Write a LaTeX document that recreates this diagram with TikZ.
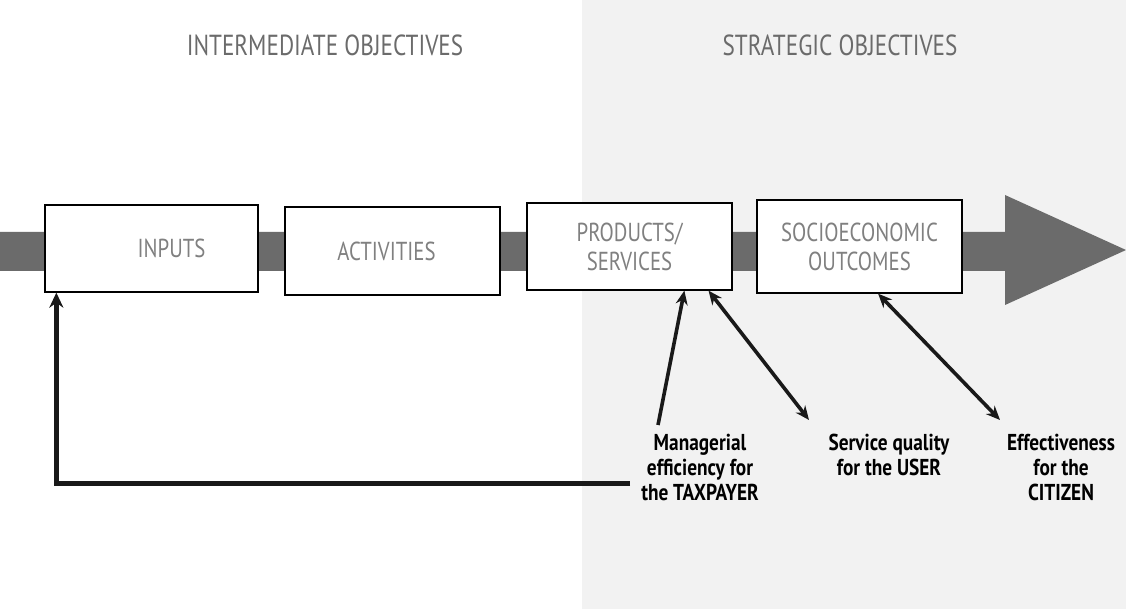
\documentclass[tikz,border=0pt]{standalone}
\usepackage{fontspec}
\setmainfont{PT Sans}
\newfontfamily\narrowfont[FakeStretch=0.8]{PT Sans}
\newfontfamily\labelfont[FakeStretch=0.84]{PT Sans}
\usetikzlibrary{arrows.meta,calc}
\begin{document}
\begin{tikzpicture}[x=1pt,y=-1pt,
  stage/.style={draw=black,line width=1.3pt,fill=white,inner sep=0pt,
    align=center,font=\narrowfont\fontsize{26}{29}\selectfont,text=black!50},
  heading/.style={font=\narrowfont\fontsize{29}{34}\selectfont,text=black!58},
  label/.style={align=center,inner sep=2pt,font=\labelfont\bfseries\fontsize{23}{25}\selectfont,text=black},
  link/.style={line width=3.6pt,black!90,-{Stealth[length=14pt,width=12pt]}},
  twoway/.style={line width=3.6pt,black!90,{Stealth[length=14pt,width=12pt]}-{Stealth[length=14pt,width=12pt]}}]
\useasboundingbox (0,0) rectangle (1126,609);
% strategic zone
\fill[black!5] (582,0) rectangle (1126,609);
% headings
\node[heading] (hint) at (325,45) {INTERMEDIATE OBJECTIVES};
\node[heading] (hstr) at (840,45) {STRATEGIC OBJECTIVES};
% main flow band with arrowhead
\fill[black!58] (0,232) -- (1005,232) -- (1005,195) -- (1126,250)
  -- (1005,305) -- (1005,271) -- (0,271) -- cycle;
% stages
\node[stage,minimum width=213pt,minimum height=87pt] (inputs) at (151.5,248.5) {\hspace*{40pt}INPUTS};
\node[stage,minimum width=215pt,minimum height=88pt] (activ) at (392.5,251) {\hspace*{-12pt}ACTIVITIES};
\node[stage,minimum width=205pt,minimum height=87pt] (prod) at (629.5,246.5) {PRODUCTS/\\SERVICES};
\node[stage,minimum width=205pt,minimum height=93pt] (socio) at (859.5,246.5) {SOCIOECONOMIC\\OUTCOMES};
% evaluation criteria
\node[label,anchor=north] (mgr) at (700,432) {Managerial\\efficiency for\\the TAXPAYER};
\node[label,anchor=north] (svc) at (889,432) {Service quality\\for the USER};
\node[label,anchor=north] (eff) at (1061,432) {Effectiveness\\for the\\CITIZEN};
% connectors
\draw[link] ($(mgr.north)+(-42,-7)$) -- ($(prod.south west)!0.766!(prod.south east)$);
\draw[twoway] ($(svc.north)+(-80,-12)$) -- ($(prod.south west)!0.883!(prod.south east)$);
\draw[twoway] ($(eff.north)+(-61,-12)$) -- ($(socio.south west)!0.59!(socio.south east)$);
\draw[link,line width=5pt,-{Stealth[length=15pt,width=14pt]}] ($(mgr.west)+(-9,16)$) -| ($(inputs.south west)!0.056!(inputs.south east)$);
\end{tikzpicture}
\end{document}
